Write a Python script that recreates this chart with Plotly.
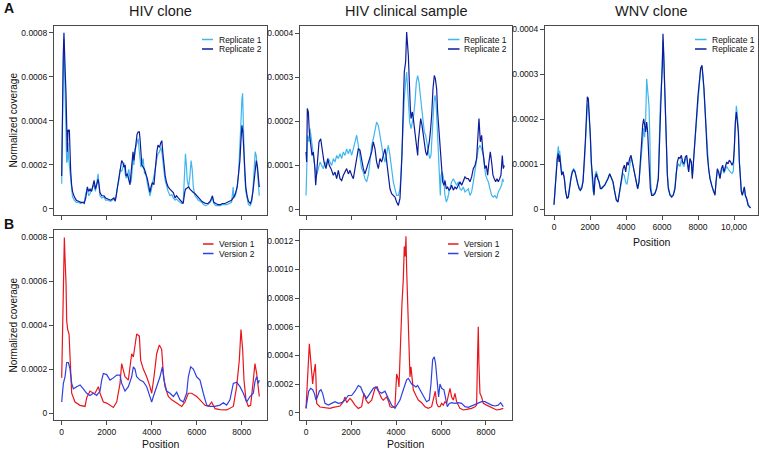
import plotly.graph_objects as go

# ---------------- data (y values in units of 1e-4 normalized coverage) ----------------
UNIT = 1e-4

HIV_CLONE_REP1 = [(0,1.15),(30,4.5),(70,6.5),(100,7.7),(130,6.0),(160,4.5),(190,3.0),(220,2.1),(250,2.2),(280,3.0),(310,2.3),(340,2.0),(370,1.6),(400,1.2),(440,0.8),(480,0.55),(560,0.4),(650,0.3),(750,0.3),(850,0.25),(950,0.3),(1000,0.3),(1070,0.7),(1140,0.9),(1200,0.6),(1260,0.7),(1330,0.9),(1400,1.0),(1440,1.1),(1500,0.8),(1560,1.2),(1620,1.6),(1660,1.0),(1700,0.6),(1780,0.5),(1880,0.55),(1950,0.4),(2050,0.4),(2175,0.35),(2250,0.4),(2320,0.45),(2380,0.4),(2430,0.6),(2480,1.0),(2540,1.3),(2600,1.8),(2665,1.7),(2720,1.9),(2770,2.1),(2820,1.6),(2860,1.4),(2920,1.5),(2980,1.8),(3035,1.4),(3080,1.2),(3120,1.6),(3170,2.3),(3210,2.0),(3250,2.7),(3290,2.8),(3350,3.1),(3400,3.2),(3450,2.6),(3480,2.3),(3520,1.9),(3560,2.0),(3620,2.3),(3680,1.6),(3730,1.7),(3800,1.2),(3860,0.9),(3920,0.6),(3970,0.8),(4030,1.1),(4100,1.4),(4170,1.9),(4230,2.3),(4280,2.5),(4350,2.6),(4400,2.8),(4450,2.6),(4500,2.0),(4560,1.6),(4600,1.3),(4660,1.0),(4730,0.8),(4810,0.6),(4900,0.65),(4960,0.5),(5040,0.4),(5100,0.45),(5180,0.35),(5260,0.3),(5330,0.25),(5400,0.3),(5460,1.6),(5500,2.5),(5540,2.0),(5580,1.3),(5640,1.0),(5700,1.5),(5750,2.2),(5800,1.8),(5850,1.0),(5920,0.6),(6000,0.5),(6070,0.4),(6150,0.35),(6230,0.3),(6300,0.2),(6400,0.15),(6500,0.2),(6600,0.3),(6700,0.5),(6760,0.25),(6850,0.15),(6950,0.15),(7050,0.15),(7150,0.2),(7250,0.2),(7350,0.2),(7450,0.25),(7550,0.3),(7620,1.0),(7650,0.5),(7720,0.6),(7800,1.0),(7860,1.6),(7920,2.6),(7960,3.8),(8010,5.0),(8040,5.25),(8070,4.0),(8100,2.6),(8130,1.6),(8180,0.8),(8240,0.4),(8300,0.2),(8380,0.15),(8440,0.3),(8500,0.9),(8560,2.0),(8600,2.6),(8650,2.4),(8700,1.6),(8740,1.1),(8780,0.6)]

HIV_CLONE_REP2 = [(0,1.5),(30,5.5),(70,7.0),(100,8.0),(130,6.5),(160,6.1),(190,5.3),(220,4.0),(250,2.6),(280,3.6),(310,3.5),(340,3.6),(370,2.4),(400,1.7),(440,1.1),(480,0.8),(560,0.55),(650,0.4),(750,0.35),(850,0.3),(950,0.3),(1000,0.25),(1070,0.5),(1140,1.0),(1200,0.8),(1260,0.9),(1330,0.8),(1400,1.2),(1440,1.3),(1500,0.9),(1560,1.1),(1620,1.35),(1660,1.1),(1700,0.75),(1780,0.6),(1880,0.6),(1950,0.5),(2050,0.45),(2175,0.4),(2250,0.45),(2320,0.5),(2380,0.35),(2430,0.7),(2480,1.1),(2540,1.5),(2600,1.9),(2665,2.2),(2720,2.1),(2770,1.9),(2820,2.0),(2860,1.5),(2920,1.6),(2980,1.3),(3035,1.1),(3080,1.6),(3120,2.1),(3170,2.6),(3210,2.2),(3250,2.5),(3290,3.0),(3350,3.4),(3400,3.5),(3450,3.5),(3480,3.2),(3520,2.2),(3560,2.0),(3620,1.9),(3680,1.8),(3730,1.6),(3800,1.4),(3860,1.1),(3920,0.75),(3970,1.0),(4030,1.2),(4100,1.1),(4170,2.1),(4230,2.6),(4280,2.9),(4350,2.8),(4400,3.0),(4450,3.1),(4500,2.5),(4560,1.8),(4600,1.5),(4660,1.2),(4730,1.0),(4810,0.9),(4900,0.8),(4960,0.75),(5040,0.5),(5100,0.6),(5180,0.5),(5260,0.4),(5330,0.3),(5400,0.25),(5460,0.7),(5500,0.9),(5580,0.95),(5640,1.0),(5700,0.9),(5780,0.8),(5850,0.75),(5920,0.7),(6000,0.6),(6070,0.5),(6150,0.4),(6230,0.35),(6300,0.3),(6400,0.25),(6500,0.25),(6600,0.35),(6700,0.6),(6760,0.3),(6850,0.25),(6950,0.2),(7050,0.2),(7150,0.25),(7250,0.25),(7350,0.3),(7450,0.35),(7550,0.4),(7650,0.55),(7720,0.7),(7800,1.0),(7860,1.5),(7920,2.2),(7960,3.0),(8010,3.8),(8050,3.5),(8090,2.6),(8130,1.8),(8180,1.0),(8240,0.6),(8300,0.35),(8380,0.25),(8440,0.4),(8500,0.8),(8560,1.5),(8600,2.0),(8650,2.2),(8700,1.9),(8740,1.5),(8780,1.0)]

HIV_CLIN_REP1 = [(0,0.31),(30,0.92),(74,1.68),(133,1.53),(178,1.83),(237,1.60),(296,1.37),(355,1.07),(400,0.92),(474,0.77),(548,0.92),(622,1.07),(696,0.99),(770,0.92),(844,1.07),(918,0.99),(992,1.15),(1066,1.07),(1140,0.99),(1214,1.15),(1288,1.07),(1363,1.22),(1437,1.15),(1511,1.26),(1585,1.15),(1659,1.30),(1733,1.22),(1807,1.37),(1881,1.26),(1955,1.37),(2029,1.22),(2103,1.37),(2177,1.53),(2251,1.68),(2325,1.45),(2399,1.15),(2473,0.92),(2547,0.84),(2621,0.69),(2695,0.62),(2769,0.77),(2843,1.07),(2918,1.45),(2992,1.60),(3066,1.83),(3139,1.98),(3214,1.90),(3287,1.68),(3362,1.37),(3436,1.22),(3510,1.07),(3584,1.30),(3658,1.45),(3732,1.22),(3806,0.92),(3880,0.62),(3954,0.46),(4028,0.31),(4102,0.31),(4177,0.46),(4221,0.77),(4265,1.37),(4325,1.98),(4369,2.51),(4428,2.89),(4474,3.12),(4518,2.74),(4563,2.29),(4607,1.98),(4667,1.83),(4726,1.98),(4785,2.13),(4844,2.44),(4904,2.89),(4963,3.04),(5022,2.89),(5081,2.59),(5141,2.29),(5200,1.98),(5259,1.75),(5318,1.68),(5377,1.53),(5437,1.37),(5496,1.15),(5555,1.22),(5600,1.68),(5644,2.13),(5688,2.44),(5733,2.59),(5777,2.44),(5822,1.98),(5866,1.53),(5911,1.07),(5940,0.69),(5970,0.31),(6000,0.77),(6059,0.84),(6118,0.69),(6178,0.31),(6236,0.16),(6296,0.24),(6355,0.39),(6414,0.54),(6473,0.62),(6547,0.69),(6622,0.62),(6696,0.54),(6770,0.62),(6844,0.46),(6918,0.43),(6992,0.50),(7066,0.39),(7140,0.43),(7214,0.46),(7288,0.31),(7362,0.39),(7436,0.62),(7510,0.84),(7584,1.15),(7658,1.37),(7732,1.45),(7806,1.37),(7880,1.22),(7925,0.99),(7984,0.77),(8043,0.69),(8103,0.62),(8177,0.46),(8251,0.31),(8325,0.27),(8399,0.31),(8473,0.24),(8547,0.39),(8621,0.46),(8695,0.54),(8739,0.69),(8784,0.62)]

HIV_CLIN_REP2 = [(0,1.3),(30,1.07),(59,2.29),(104,2.21),(148,1.75),(207,1.53),(267,1.22),(326,1.30),(385,0.99),(430,0.54),(504,1.07),(578,1.53),(652,1.60),(726,1.37),(800,1.07),(889,0.92),(963,1.15),(1037,0.99),(1111,0.92),(1214,0.77),(1288,0.84),(1363,0.69),(1437,0.88),(1511,0.69),(1585,0.65),(1659,0.77),(1733,0.84),(1807,0.92),(1881,0.80),(1955,0.88),(2029,0.77),(2103,0.69),(2177,0.92),(2251,1.15),(2325,1.37),(2399,1.34),(2473,1.07),(2547,0.92),(2621,0.80),(2695,0.92),(2769,1.07),(2843,1.15),(2918,1.30),(2992,1.53),(3066,1.37),(3139,1.07),(3214,0.92),(3287,1.15),(3362,1.07),(3436,1.22),(3510,1.37),(3554,1.22),(3614,0.92),(3673,0.77),(3732,0.46),(3806,0.35),(3880,0.31),(3954,0.27),(4028,0.16),(4102,0.08),(4177,0.24),(4221,0.62),(4265,1.22),(4325,2.36),(4369,3.12),(4428,3.35),(4474,4.03),(4548,3.50),(4592,2.74),(4637,2.29),(4667,2.06),(4726,2.21),(4770,2.06),(4815,1.83),(4859,1.68),(4918,1.37),(4963,1.22),(4992,1.53),(5037,1.83),(5096,2.06),(5155,1.91),(5215,1.68),(5259,1.60),(5318,1.30),(5377,1.22),(5437,1.37),(5481,1.53),(5526,1.75),(5585,2.13),(5644,2.74),(5703,3.04),(5748,2.97),(5807,2.74),(5851,2.21),(5911,1.75),(5955,1.53),(6000,0.99),(6029,0.77),(6074,0.62),(6133,0.54),(6178,0.65),(6236,0.46),(6296,0.50),(6355,0.43),(6414,0.46),(6473,0.54),(6547,0.43),(6622,0.50),(6696,0.46),(6770,0.54),(6844,0.62),(6918,0.54),(6992,0.62),(7066,0.73),(7140,0.69),(7214,0.69),(7288,0.62),(7362,0.73),(7436,0.92),(7510,0.99),(7584,1.15),(7629,1.60),(7688,2.06),(7747,1.53),(7806,1.68),(7851,1.37),(7895,1.22),(7954,0.92),(8014,0.99),(8073,0.77),(8132,1.07),(8191,1.30),(8250,1.07),(8310,0.77),(8369,0.69),(8428,0.62),(8488,0.69),(8547,0.62),(8606,0.69),(8665,0.77),(8725,1.22),(8769,0.92),(8813,0.99)]

WNV_REP1 = [(0,0.1),(56,0.5),(130,1.0),(185,1.2),(241,1.4),(278,1.15),(315,1.3),(370,1.0),(426,0.8),(500,0.85),(574,0.7),(648,0.4),(722,0.25),(796,0.3),(870,0.55),(944,0.72),(1019,0.85),(1093,0.9),(1167,0.85),(1241,0.7),(1315,0.55),(1389,0.5),(1463,0.45),(1537,0.5),(1611,0.62),(1685,1.0),(1741,1.4),(1796,1.9),(1852,2.3),(1907,2.35),(1963,2.05),(2019,1.6),(2074,1.0),(2130,0.75),(2167,0.4),(2222,0.35),(2278,0.75),(2352,0.85),(2426,0.75),(2500,0.6),(2574,0.5),(2648,0.48),(2722,0.5),(2815,0.55),(2907,0.6),(3000,0.7),(3093,0.78),(3185,0.7),(3278,0.6),(3370,0.4),(3463,0.22),(3556,0.18),(3611,0.3),(3685,0.55),(3759,0.7),(3833,0.8),(3907,0.75),(3982,0.6),(4056,0.55),(4130,0.75),(4204,1.0),(4278,1.15),(4352,1.05),(4426,0.9),(4500,0.7),(4574,0.55),(4648,0.45),(4722,0.6),(4796,0.95),(4870,1.4),(4926,1.7),(4982,1.8),(5037,1.6),(5093,2.0),(5148,2.9),(5204,2.6),(5278,2.3),(5330,1.5),(5370,0.6),(5426,0.35),(5518,0.33),(5611,0.37),(5703,0.48),(5796,0.7),(5852,1.6),(5907,2.35),(5963,2.7),(6018,3.3),(6055,3.75),(6092,3.4),(6129,2.95),(6185,1.95),(6240,1.25),(6296,0.8),(6352,0.5),(6444,0.33),(6537,0.3),(6629,0.33),(6722,0.5),(6778,0.8),(6852,0.95),(6926,1.0),(7000,0.95),(7074,1.1),(7148,1.0),(7222,0.95),(7296,1.1),(7370,1.15),(7426,0.95),(7481,0.85),(7555,1.1),(7629,1.05),(7685,0.75),(7740,1.05),(7796,1.35),(7852,1.7),(7926,2.15),(8000,2.55),(8074,2.9),(8148,3.15),(8222,3.15),(8278,2.95),(8333,2.6),(8389,2.2),(8444,1.7),(8518,1.2),(8592,0.9),(8666,0.7),(8759,0.55),(8852,0.4),(8944,0.35),(9000,0.6),(9074,0.85),(9148,0.8),(9222,0.7),(9296,0.85),(9370,0.9),(9444,0.8),(9518,0.88),(9593,0.95),(9667,0.9),(9741,0.85),(9815,0.82),(9889,0.8),(9963,0.85),(10018,1.4),(10074,2.1),(10130,2.3),(10185,2.1),(10241,1.8),(10296,1.1),(10352,0.65),(10407,0.4),(10463,0.32),(10518,0.38),(10574,0.48),(10630,0.3),(10704,0.22),(10778,0.1),(10852,0.05),(10926,0.03)]

WNV_REP2 = [(0,0.10),(56,0.46),(130,0.90),(185,1.13),(241,1.24),(278,1.05),(315,1.20),(370,0.90),(426,0.76),(500,0.83),(574,0.68),(648,0.39),(722,0.24),(796,0.27),(870,0.53),(944,0.68),(1019,0.83),(1093,0.87),(1167,0.83),(1241,0.68),(1315,0.53),(1389,0.46),(1463,0.42),(1537,0.46),(1611,0.61),(1685,1.05),(1741,1.50),(1796,2.01),(1852,2.50),(1907,2.46),(1963,2.16),(2019,1.64),(2074,1.05),(2130,0.76),(2167,0.39),(2222,0.31),(2278,0.68),(2352,0.79),(2426,0.68),(2500,0.61),(2574,0.46),(2648,0.46),(2722,0.50),(2815,0.53),(2907,0.61),(3000,0.68),(3093,0.79),(3185,0.68),(3278,0.61),(3370,0.39),(3463,0.20),(3556,0.16),(3611,0.31),(3685,0.61),(3759,0.76),(3833,0.90),(3907,0.98),(3982,0.83),(4056,1.05),(4130,0.98),(4204,1.13),(4278,1.20),(4352,1.05),(4426,0.90),(4500,0.68),(4574,0.53),(4648,0.46),(4722,0.61),(4796,0.98),(4870,1.50),(4926,1.87),(4982,2.01),(5037,1.87),(5093,1.72),(5148,1.94),(5204,1.72),(5278,1.05),(5352,0.46),(5426,0.31),(5518,0.31),(5611,0.35),(5703,0.46),(5796,0.68),(5852,1.57),(5907,2.31),(5963,2.68),(6018,3.20),(6055,3.90),(6092,3.50),(6129,2.90),(6185,1.94),(6240,1.20),(6296,0.76),(6352,0.46),(6444,0.31),(6537,0.27),(6629,0.31),(6722,0.46),(6778,0.83),(6852,1.05),(6926,1.16),(7000,1.13),(7074,1.20),(7148,1.05),(7222,1.01),(7296,1.16),(7370,1.20),(7426,0.98),(7481,0.83),(7555,1.13),(7629,1.05),(7685,0.68),(7740,1.05),(7796,1.35),(7852,1.64),(7926,2.09),(8000,2.53),(8074,2.83),(8148,3.13),(8222,3.20),(8278,2.98),(8333,2.68),(8389,2.24),(8444,1.72),(8518,1.20),(8592,0.90),(8666,0.68),(8759,0.53),(8852,0.39),(8944,0.31),(9000,0.61),(9074,0.90),(9148,0.83),(9222,0.68),(9296,0.90),(9370,0.98),(9444,0.83),(9518,0.94),(9593,1.05),(9667,1.01),(9741,1.09),(9815,1.05),(9889,0.98),(9963,1.05),(10018,1.35),(10074,1.94),(10130,2.16),(10185,1.94),(10241,1.72),(10296,1.05),(10352,0.61),(10407,0.39),(10463,0.31),(10518,0.39),(10574,0.50),(10630,0.31),(10704,0.24),(10778,0.09),(10852,0.05),(10926,0.03)]

HIV_CLONE_V1 = [(0,1.6),(74,5.8),(118,8.0),(150,7.0),(193,5.9),(222,4.2),(267,3.8),(326,3.6),(370,2.4),(444,0.9),(592,0.5),(815,0.35),(1037,0.3),(1111,0.7),(1259,1.0),(1400,0.9),(1481,0.9),(1629,1.2),(1703,0.9),(1851,0.5),(2000,0.45),(2147,0.35),(2296,0.25),(2444,0.5),(2592,1.35),(2666,2.25),(2740,2.0),(2814,1.65),(2962,1.5),(3036,2.1),(3110,2.7),(3184,2.55),(3258,3.0),(3332,3.6),(3451,3.5),(3510,2.4),(3628,2.0),(3777,1.65),(3925,1.2),(3999,0.9),(4102,1.65),(4221,2.7),(4339,3.1),(4443,2.9),(4517,1.8),(4591,1.2),(4739,0.75),(4887,0.6),(5109,0.45),(5332,0.3),(5480,0.5),(5628,0.9),(5776,0.9),(5998,0.75),(6146,0.6),(6368,0.35),(6516,0.3),(6665,0.5),(6813,0.2),(7035,0.15),(7331,0.14),(7627,0.3),(7775,1.2),(7893,2.4),(7967,3.8),(8042,2.9),(8101,1.5),(8190,0.6),(8294,0.3),(8397,0.35),(8516,1.5),(8590,2.25),(8664,1.8),(8738,1.0),(8782,0.75)]

HIV_CLONE_V2 = [(0,0.5),(74,1.35),(148,1.65),(222,2.3),(296,2.3),(370,2.0),(444,1.35),(518,1.1),(666,1.2),(815,1.28),(963,1.1),(1037,1.0),(1111,0.9),(1259,0.8),(1407,0.9),(1555,0.8),(1703,1.0),(1777,1.5),(1851,1.8),(1999,1.75),(2147,1.5),(2296,1.6),(2444,1.73),(2592,1.73),(2666,1.35),(2814,1.0),(2962,1.2),(3110,1.65),(3184,2.1),(3258,2.0),(3332,1.65),(3480,1.5),(3628,1.43),(3777,1.2),(3925,0.67),(3999,0.5),(4073,0.75),(4221,1.2),(4369,1.65),(4473,2.1),(4547,1.5),(4665,1.0),(4813,0.9),(4962,0.75),(5109,0.95),(5258,0.6),(5406,0.5),(5554,0.9),(5628,1.65),(5732,2.1),(5850,2.0),(5998,1.65),(6146,1.5),(6294,0.9),(6442,0.36),(6591,0.3),(6813,0.3),(7035,0.36),(7183,0.47),(7331,0.36),(7479,0.6),(7627,1.35),(7775,1.4),(7924,1.2),(8072,0.9),(8220,0.5),(8368,0.75),(8516,0.9),(8590,1.43),(8664,1.65),(8738,1.35),(8782,1.5)]

HIV_CLIN_V1 = [(0,0.3),(59,2.5),(104,4.1),(148,4.8),(207,3.7),(252,3.0),(296,2.0),(326,2.5),(370,3.2),(415,3.4),(444,2.3),(474,0.65),(622,0.4),(770,0.37),(918,0.35),(1066,0.3),(1214,0.37),(1363,0.42),(1511,0.47),(1659,0.77),(1733,1.1),(1807,0.7),(1955,1.0),(2029,0.88),(2177,0.53),(2325,0.3),(2473,0.42),(2577,1.35),(2666,0.88),(2769,0.65),(2918,0.88),(3066,1.7),(3169,1.8),(3258,1.35),(3362,1.0),(3436,0.88),(3584,1.1),(3673,0.77),(3732,0.42),(3806,0.37),(3954,0.42),(4028,2.7),(4102,2.3),(4132,1.8),(4177,4.1),(4221,5.5),(4265,7.6),(4325,9.3),(4369,11.6),(4413,10.9),(4443,12.3),(4473,10.0),(4517,7.6),(4561,4.1),(4621,2.5),(4665,3.2),(4710,2.3),(4769,1.6),(4887,1.2),(4991,0.88),(5139,0.7),(5287,0.42),(5435,0.3),(5583,0.42),(5687,1.1),(5746,1.5),(5806,0.65),(5880,0.42),(5954,0.42),(6028,0.65),(6102,0.53),(6176,0.77),(6250,0.65),(6324,1.1),(6398,1.7),(6472,1.1),(6546,0.88),(6620,1.35),(6694,0.77),(6842,0.3),(6990,0.19),(7138,0.23),(7361,0.3),(7509,0.42),(7583,0.53),(7627,4.1),(7657,6.0),(7687,3.4),(7731,1.35),(7805,1.1),(7879,0.65),(8027,0.53),(8175,0.42),(8323,0.3),(8471,0.19),(8619,0.23),(8768,0.3)]

HIV_CLIN_V2 = [(0,0.3),(59,1.1),(118,1.5),(207,1.7),(296,1.6),(370,1.35),(444,0.88),(504,1.1),(592,1.5),(666,1.6),(740,1.35),(844,0.65),(992,0.53),(1140,0.65),(1288,0.77),(1437,0.65),(1585,0.7),(1733,0.88),(1881,1.2),(2029,1.2),(2177,1.5),(2325,1.9),(2429,1.8),(2547,1.35),(2695,1.0),(2844,1.35),(2992,1.7),(3110,1.8),(3214,1.5),(3362,1.35),(3510,1.5),(3658,1.0),(3806,0.53),(3954,0.3),(4058,0.53),(4177,0.88),(4325,1.6),(4473,2.3),(4547,2.4),(4621,2.2),(4695,2.0),(4798,1.9),(4887,1.8),(4961,1.9),(5065,1.6),(5213,1.1),(5361,0.77),(5480,0.88),(5554,2.0),(5628,3.7),(5702,3.9),(5761,3.4),(5835,1.8),(5894,1.1),(5954,2.0),(6028,1.7),(6131,1.6),(6191,1.0),(6279,0.42),(6368,0.65),(6472,0.7),(6620,0.65),(6768,0.7),(6916,0.65),(7064,0.42),(7212,0.37),(7361,0.47),(7509,0.6),(7657,0.7),(7805,0.77),(7953,0.77),(8101,0.65),(8249,0.53),(8397,0.47),(8545,0.53),(8649,0.7),(8738,0.53),(8768,0.42)]

PANEL_TITLES = ["HIV clone", "HIV clinical sample", "WNV clone"]
REPLICATE_NAMES = ["Replicate 1", "Replicate 2"]
VERSION_NAMES = ["Version 1", "Version 2"]
X_TICKS_HIV = [0, 2000, 4000, 6000, 8000]
X_TICKS_WNV = [0, 2000, 4000, 6000, 8000, 10000]
X_TICKTEXT_WNV = ["0", "2000", "4000", "6000", "8000", "10,000"]
Y_TICKS_8 = [0, 0.0002, 0.0004, 0.0006, 0.0008]
Y_TICKTEXT_8 = ["0", "0.0002", "0.0004", "0.0006", "0.0008"]
Y_TICKS_4 = [0, 0.0001, 0.0002, 0.0003, 0.0004]
Y_TICKTEXT_4 = ["0", "0.0001", "0.0002", "0.0003", "0.0004"]
Y_TICKS_12 = [0, 0.0002, 0.0004, 0.0006, 0.0008, 0.0010, 0.0012]
Y_TICKTEXT_12 = ["0", "0.0002", "0.0004", "0.0006", "0.0008", "0.0010", "0.0012"]

# ---------------- style ----------------
W, H = 759, 451
FONT = "Liberation Sans, Arial, Helvetica, sans-serif"
C_LIGHT = "#3fb6ee"
C_DARK = "#0c1c9a"
C_RED = "#e8161c"
C_BLUE = "#2f40e0"
FRAME = "#4a4a4a"
LW = 1.2


def fx(p):
    return p / W


def fy(p):
    return 1 - p / H


def split(pairs):
    return [p[0] for p in pairs], [p[1] * UNIT for p in pairs]


fig = go.Figure()

panels = [
    ("", [HIV_CLONE_REP1, HIV_CLONE_REP2], [C_LIGHT, C_DARK]),
    ("2", [HIV_CLIN_REP1, HIV_CLIN_REP2], [C_LIGHT, C_DARK]),
    ("3", [WNV_REP1, WNV_REP2], [C_LIGHT, C_DARK]),
    ("4", [HIV_CLONE_V1, HIV_CLONE_V2], [C_RED, C_BLUE]),
    ("5", [HIV_CLIN_V1, HIV_CLIN_V2], [C_RED, C_BLUE]),
]
for suf, series, cols in panels:
    for s, c in zip(series, cols):
        x, y = split(s)
        fig.add_trace(go.Scatter(x=x, y=y, mode="lines", line=dict(color=c, width=LW),
                                 xaxis="x" + suf, yaxis="y" + suf, showlegend=False,
                                 hoverinfo="skip"))

axis_common = dict(showline=True, mirror=True, linecolor=FRAME, linewidth=1,
                   ticks="outside", ticklen=4, tickwidth=1, tickcolor=FRAME,
                   showgrid=False, zeroline=False,
                   tickfont=dict(family=FONT, size=8.5, color="#111"))

rowA = [fy(214.5), fy(25.5)]
rowB = [fy(420), fy(229.5)]
col1 = [fx(54), fx(267)]
col2 = [fx(300), fx(512)]
col3 = [fx(545), fx(758)]

layout = dict(
    width=W, height=H, margin=dict(l=0, r=0, t=0, b=0),
    paper_bgcolor="white", plot_bgcolor="white", showlegend=False,
    xaxis=dict(axis_common, domain=col1, range=[-342, 9124], tickvals=X_TICKS_HIV, showticklabels=False, anchor="y"),
    yaxis=dict(axis_common, domain=rowA, range=[-2.5e-5, 8.326e-4], tickvals=Y_TICKS_8, ticktext=Y_TICKTEXT_8, anchor="x"),
    xaxis2=dict(axis_common, domain=col2, range=[-267, 9156], tickvals=X_TICKS_HIV, showticklabels=False, anchor="y2"),
    yaxis2=dict(axis_common, domain=rowA, range=[-1.25e-5, 4.18e-4], tickvals=Y_TICKS_4, ticktext=Y_TICKTEXT_4, anchor="x2"),
    xaxis3=dict(axis_common, domain=col3, range=[-500, 11333], tickvals=X_TICKS_WNV, ticktext=X_TICKTEXT_WNV, anchor="y3"),
    yaxis3=dict(axis_common, domain=rowA, range=[-1.16e-5, 4.084e-4], tickvals=Y_TICKS_4, ticktext=Y_TICKTEXT_4, anchor="x3"),
    xaxis4=dict(axis_common, domain=col1, range=[-342, 9124], tickvals=X_TICKS_HIV, anchor="y4"),
    yaxis4=dict(axis_common, domain=rowB, range=[-3.19e-5, 8.36e-4], tickvals=Y_TICKS_8, ticktext=Y_TICKTEXT_8, anchor="x4"),
    xaxis5=dict(axis_common, domain=col2, range=[-267, 9156], tickvals=X_TICKS_HIV, anchor="y5"),
    yaxis5=dict(axis_common, domain=rowB, range=[-5.09e-5, 1.278e-3], tickvals=Y_TICKS_12, ticktext=Y_TICKTEXT_12, anchor="x5"),
)
fig.update_layout(**layout)

annotations = []
shapes = []


def text(x, y, s, size, bold=False, angle=0, color="#111", xanchor="center"):
    annotations.append(dict(x=fx(x), y=fy(y), xref="paper", yref="paper", text=("<b>%s</b>" % s) if bold else s,
                            showarrow=False, xanchor=xanchor, yanchor="middle", textangle=angle,
                            font=dict(family=FONT, size=size, color=color)))


text(160.5, 11, PANEL_TITLES[0], 14.5, color="#1a1a1a")
text(406, 11, PANEL_TITLES[1], 14.5, color="#1a1a1a")
text(651.5, 11, PANEL_TITLES[2], 14.5, color="#1a1a1a")
text(9, 8, "A", 14, bold=True)
text(9, 223.5, "B", 14, bold=True)
text(12.5, 120, "Normalized coverage", 10, angle=-90)
text(12.5, 325, "Normalized coverage", 10, angle=-90)
text(160.5, 444, "Position", 10.5)
text(406, 444, "Position", 10.5)
text(651.5, 242, "Position", 10.5)

legends = [
    (202, 213, 216.5, 39.5, 49, REPLICATE_NAMES, [C_LIGHT, C_DARK]),
    (448, 459.5, 462.5, 39.5, 49, REPLICATE_NAMES, [C_LIGHT, C_DARK]),
    (695, 706.5, 709.5, 39.5, 49, REPLICATE_NAMES, [C_LIGHT, C_DARK]),
    (203, 213.5, 216.5, 244, 253.5, VERSION_NAMES, [C_RED, C_BLUE]),
    (448, 458.5, 461.5, 244, 253.5, VERSION_NAMES, [C_RED, C_BLUE]),
]
for x0, x1, tx, r1, r2, names, cols in legends:
    for ry, nm, c in zip([r1, r2], names, cols):
        shapes.append(dict(type="line", xref="paper", yref="paper", x0=fx(x0), x1=fx(x1), y0=fy(ry), y1=fy(ry),
                           line=dict(color=c, width=1.5)))
        text(tx, ry, nm, 8.5, xanchor="left")

fig.update_layout(annotations=annotations, shapes=shapes)
fig.write_html("out.html", config={"displayModeBar": False},
               post_script="document.body.style.margin='0px';document.body.style.overflow='hidden';")
